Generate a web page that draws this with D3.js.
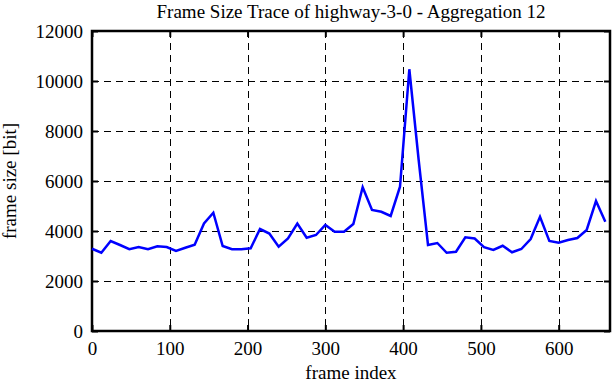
<!DOCTYPE html>
<html>
<head>
<meta charset="utf-8">
<script src="https://cdn.jsdelivr.net/npm/d3@7"></script>
<style>
  body { margin: 0; background: #fff; }
  svg { display: block; font-family: "Liberation Serif", "DejaVu Serif", serif; }
</style>
</head>
<body>
<div id="plot"></div>
<script>
// frame index step (aggregation 12)
const step = 12;
// aggregated frame sizes [bit]
const frameSize = [
  3290, 3130, 3600, 3440, 3270, 3360, 3270, 3390, 3360, 3200,
  3330, 3450, 4300, 4730, 3400, 3270, 3270, 3310, 4080, 3900,
  3370, 3700, 4300, 3730, 3840, 4240, 3970, 3970, 4280, 5750,
  4840, 4770, 4600, 5770, 10470, 6840, 3440, 3520, 3130, 3170,
  3750, 3700, 3350, 3240, 3410, 3150, 3280, 3680, 4570, 3600,
  3530, 3640, 3720, 4040, 5200, 4370
];
const frameIndex = frameSize.map((d, i) => i * step);
const xTicks = [0, 100, 200, 300, 400, 500, 600];
const yTicks = [0, 2000, 4000, 6000, 8000, 10000, 12000];

const width = 612, height = 382;
const marginTop = 31, marginRight = 2, marginBottom = 51, marginLeft = 92;

const x = d3.scaleLinear([0, 666], [marginLeft, width - marginRight]);
const y = d3.scaleLinear([0, 12000], [height - marginBottom, marginTop]);

const svg = d3.select("#plot").append("svg")
  .attr("width", width)
  .attr("height", height)
  .attr("viewBox", [0, 0, width, height]);

// dashed grid
svg.append("g")
  .attr("shape-rendering", "crispEdges")
  .selectAll("line")
  .data(xTicks.filter(d => d > 0))
  .join("line")
    .attr("x1", d => Math.round(x(d)) + 0.5).attr("x2", d => Math.round(x(d)) + 0.5)
    .attr("y1", y(12000)).attr("y2", y(0))
    .attr("stroke", "#000").attr("stroke-width", 1)
    .attr("stroke-dasharray", "7,5");
svg.append("g")
  .attr("shape-rendering", "crispEdges")
  .selectAll("line")
  .data(yTicks.filter(d => d > 0 && d < 12000))
  .join("line")
    .attr("x1", x(0)).attr("x2", x(666))
    .attr("y1", d => Math.round(y(d)) + 0.5).attr("y2", d => Math.round(y(d)) + 0.5)
    .attr("stroke", "#000").attr("stroke-width", 1)
    .attr("stroke-dasharray", "7,5");

// axes with inward ticks, mirrored on top and right
const tickLen = 6;
const fmt = d3.format("d");
svg.append("g")
  .attr("transform", `translate(0,${height - marginBottom})`)
  .call(d3.axisBottom(x).tickValues(xTicks).tickFormat(fmt).tickSize(-tickLen).tickPadding(tickLen + 5).tickSizeOuter(0))
  .call(g => g.select(".domain").remove());
svg.append("g")
  .attr("transform", `translate(0,${marginTop})`)
  .call(d3.axisTop(x).tickValues(xTicks).tickSize(-tickLen).tickFormat("").tickSizeOuter(0))
  .call(g => g.select(".domain").remove());
svg.append("g")
  .attr("transform", `translate(${marginLeft},0)`)
  .call(d3.axisLeft(y).tickValues(yTicks).tickFormat(fmt).tickSize(-tickLen).tickPadding(tickLen + 3).tickSizeOuter(0))
  .call(g => g.select(".domain").remove());
svg.append("g")
  .attr("transform", `translate(${width - marginRight},0)`)
  .call(d3.axisRight(y).tickValues(yTicks).tickSize(-tickLen).tickFormat("").tickSizeOuter(0))
  .call(g => g.select(".domain").remove());

svg.selectAll(".tick line").attr("stroke", "#000").attr("stroke-width", 2);
svg.selectAll(".tick text")
  .attr("fill", "#000")
  .attr("font-family", "Liberation Serif, serif")
  .attr("font-size", 19);

// frame border
svg.append("rect")
  .attr("x", x(0)).attr("y", y(12000))
  .attr("width", x(666) - x(0)).attr("height", y(0) - y(12000))
  .attr("fill", "none").attr("stroke", "#000").attr("stroke-width", 2.5);

// trace
const line = d3.line()
  .x((d, i) => x(frameIndex[i]))
  .y(d => y(d));
svg.append("path")
  .attr("fill", "none")
  .attr("stroke", "#0000ff")
  .attr("stroke-width", 2.5)
  .attr("d", line(frameSize));

// labels
svg.append("text")
  .attr("x", 351).attr("y", 18)
  .attr("text-anchor", "middle")
  .attr("font-size", 19)
  .text("Frame Size Trace of highway-3-0 - Aggregation 12");
svg.append("text")
  .attr("x", 351).attr("y", 379)
  .attr("text-anchor", "middle")
  .attr("font-size", 19)
  .text("frame index");
svg.append("text")
  .attr("transform", `translate(16,181) rotate(-90)`)
  .attr("text-anchor", "middle")
  .attr("font-size", 19)
  .text("frame size [bit]");
</script>
</body>
</html>
